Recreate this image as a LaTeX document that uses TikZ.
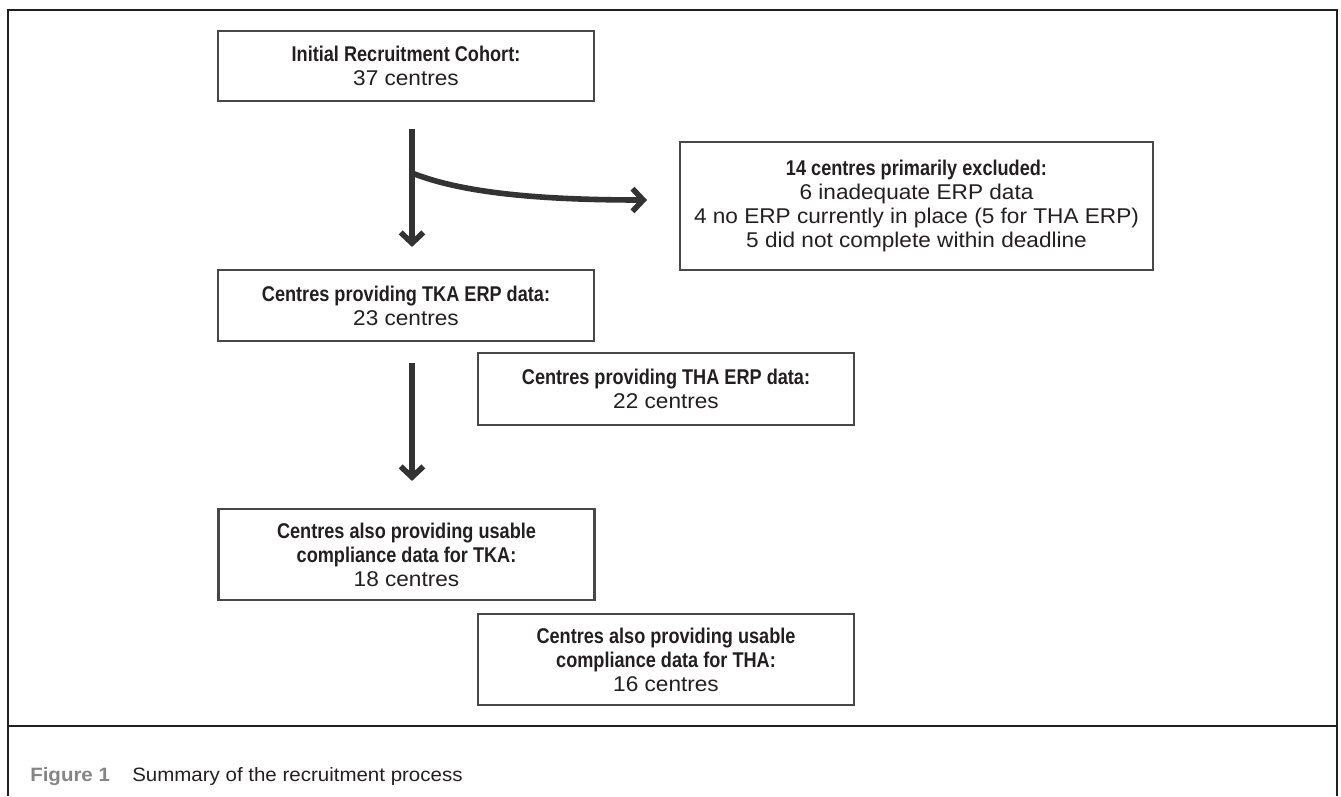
\documentclass[tikz,border=0pt]{standalone}
\usepackage{fontspec}
\setmainfont[FakeStretch=1.06]{Liberation Sans}
\newfontfamily\condbf[FakeStretch=0.85]{Liberation Sans Bold}
\usetikzlibrary{arrows.meta}
\definecolor{framegray}{HTML}{231F20}
\definecolor{boxgray}{HTML}{474747}
\definecolor{arrowgray}{HTML}{333333}
\definecolor{figgray}{HTML}{858585}
\tikzset{
  flowbox/.style={draw=boxgray,line width=1.6pt,align=center,inner sep=0pt,
    text=framegray,font=\fontsize{16}{18}\selectfont,minimum width=282pt},
  flowarrow/.style={draw=arrowgray,line width=4.2pt,
    -{Straight Barb[length=8pt,width=17pt]}}
}

\begin{document}
\begin{tikzpicture}[x=0.75pt,y=-0.75pt]
          \useasboundingbox (0,0) rectangle (1341,796);
          % frame and caption rule
          \draw [framegray,line width=2.2pt](8,796)--(8,10)--(1337,10)--(1337,796);
          \draw [framegray,line width=2.2pt](8,726)--(1337,726);

          \node [flowbox,minimum height=52.5pt] (cohort) at (406,66)
            {{\condbf Initial Recruitment Cohort:}\\37 centres};
          \node [flowbox,minimum width=354.75pt,minimum height=96pt] (excl) at (916.5,206)
            {{\condbf 14 centres primarily excluded:}\\6 inadequate ERP data\\
             4 no ERP currently in place (5 for THA ERP)\\5 did not complete within deadline};
          \node [flowbox,minimum height=53.25pt] (tka) at (406,305.5)
            {{\condbf Centres providing TKA ERP data:}\\23 centres};
          \node [flowbox,minimum height=54pt] (tha) at (666,389)
            {{\condbf Centres providing THA ERP data:}\\22 centres};
          \node [flowbox,minimum height=68.25pt] (comptka) at (406.5,554.5)
            {{\condbf Centres also providing usable}\\{\condbf compliance data for TKA:}\\18 centres};
          \node [flowbox,minimum height=68.25pt] (comptha) at (666,659.5)
            {{\condbf Centres also providing usable}\\{\condbf compliance data for THA:}\\16 centres};

          \coordinate (split) at (412,173);
          \coordinate (exclin) at (647,200);
          \draw [flowarrow,shorten <=20.25pt,shorten >=16.5pt](cohort.south -| split)--(tka.north -| split);
          \draw [flowarrow](split) .. controls (462,193) and (540,200) .. (exclin);
          \draw [flowarrow,shorten <=15.75pt,shorten >=20.25pt](tka.south -| split)--(comptka.north -| split);

          \node [anchor=base west,inner sep=0pt,text=figgray,font=\fontsize{14.5}{16}\bfseries\selectfont] (fignum) at (30,781) {Figure 1};
          \node [anchor=base west,inner sep=0pt,text=framegray,font=\fontsize{14.5}{16}\selectfont] (figtext) at (132,781) {Summary of the recruitment process};
\end{tikzpicture}
\end{document}
